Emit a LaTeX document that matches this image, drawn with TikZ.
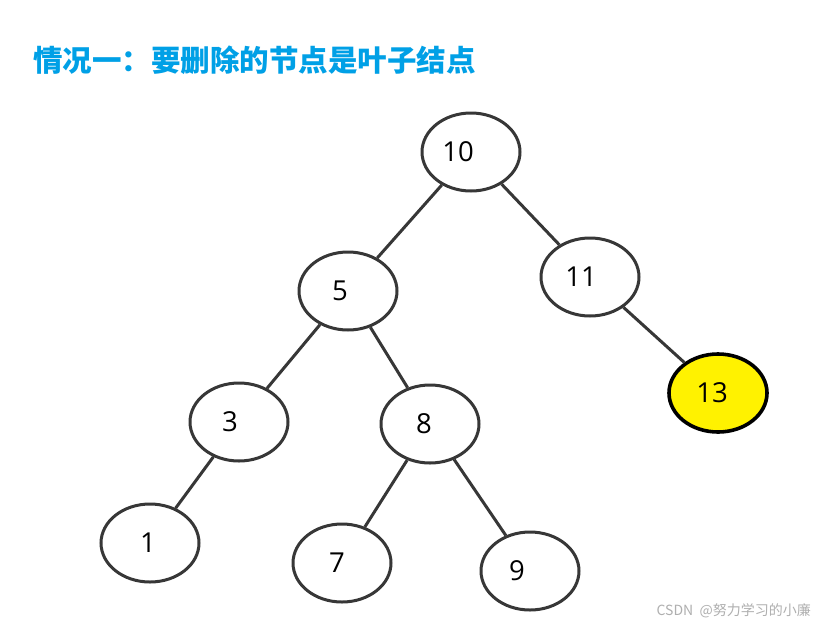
\documentclass[tikz,border=0pt]{standalone}
\usepackage{fontspec}
\setmainfont{Open Sans}
\newfontfamily\cjk{Noto Sans CJK SC}
\usetikzlibrary{shapes.geometric}
\definecolor{titleblue}{RGB}{0,160,230}
\definecolor{edgegray}{RGB}{55,55,55}
\definecolor{wmgray}{RGB}{175,175,175}
\tikzset{
  tnode/.style={ellipse, draw=edgegray, line width=3pt, minimum width=98pt, minimum height=78pt, inner sep=0pt, fill=white},
  hot/.style={tnode, draw=black, line width=3.6pt, fill=yellow},
  num/.style={font=\fontsize{27.5}{27.5}\selectfont, inner sep=0pt},
  edge/.style={draw=edgegray, line width=3pt}
}
\begin{document}
\begin{tikzpicture}[x=1pt,y=-1pt]
\useasboundingbox (0,0) rectangle (829,627);
\fill[white] (0,0) rectangle (829,627);
\node[anchor=west, text=titleblue, font=\cjk\bfseries\fontsize{29.5}{29.5}\selectfont, inner sep=0pt] (title) at (33,60) {情况一：要删除的节点是叶子结点};

\node[tnode, label={[num,xshift=-13pt]center:10}] (n10) at (471,152) {};
\node[tnode, label={[num,xshift=-8pt]center:5}] (n5) at (348,291) {};
\node[tnode, label={[num,xshift=-9pt]center:11}] (n11) at (590,277) {};
\node[hot, label={[num,xshift=-6pt]center:13}] (n13) at (718,393) {};
\node[tnode, label={[num,xshift=-9pt]center:3}] (n3) at (239,422) {};
\node[tnode, label={[num,xshift=-6pt]center:8}] (n8) at (430,424) {};
\node[tnode, label={[num,xshift=-2pt]center:1}] (n1) at (150,543) {};
\node[tnode, label={[num,xshift=-5pt]center:7}] (n7) at (342,563) {};
\node[tnode, label={[num,xshift=-13pt]center:9}] (n9) at (530,571) {};

\draw[edge] (n10) -- (n5);
\draw[edge] (n10) -- (n11);
\draw[edge] (n5) -- (n3);
\draw[edge] (n5) -- (n8);
\draw[edge] (n3) -- (n1);
\draw[edge] (n8) -- (n7);
\draw[edge] (n8) -- (n9);
\draw[edge] (n11) -- (n13);

\node[anchor=east, text=wmgray, font=\cjk\fontsize{14}{14}\selectfont, inner sep=0pt] (wm) at (811,611) {CSDN\ \ @努力学习的小廉};
\end{tikzpicture}
\end{document}
